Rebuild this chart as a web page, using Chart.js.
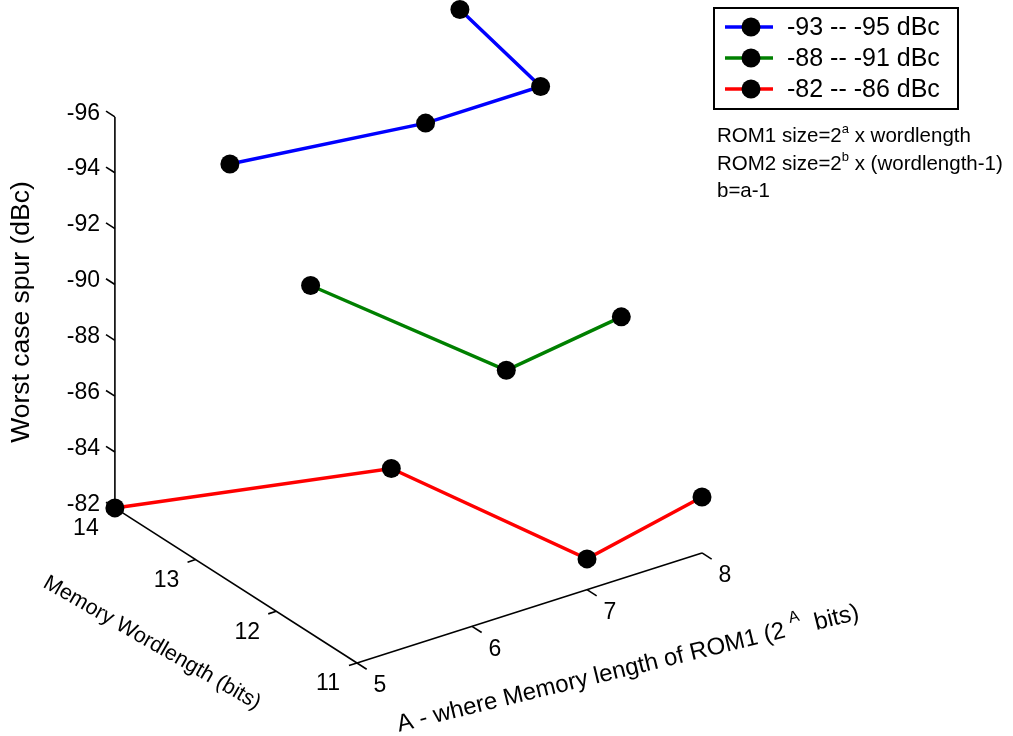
<!DOCTYPE html>
<html>
<head>
<meta charset="utf-8">
<script src="https://cdn.jsdelivr.net/npm/chart.js@4"></script>
<style>
  body { margin: 0; background: #fff; }
  #wrap { width: 1013px; height: 736px; }
</style>
</head>
<body>
<div id="wrap"><canvas id="spurChart" width="1013" height="736"></canvas></div>
<script>
// Axes ticks
const aTicks = [5, 6, 7, 8];
const wTicks = [11, 12, 13, 14];
const spurTicks = [-96, -94, -92, -90, -88, -86, -84, -82];

// Series: A, wordlength, worst case spur (dBc)
const highA = [6, 7, 8, 8];
const highW = [14, 13, 13, 14];
const highSpur = [-93.0, -95.0, -95.0, -95.9];

const midA = [6, 7, 8];
const midW = [13, 12, 12];
const midSpur = [-90.5, -88.0, -88.6];

const lowA = [5, 6, 7, 8];
const lowW = [14, 12, 11, 11];
const lowSpur = [-82.0, -85.8, -83.1, -84.0];

const seriesLabels = ['-93 -- -95 dBc', '-88 -- -91 dBc', '-82 -- -86 dBc'];
const seriesColors = ['#0000ff', '#008000', '#ff0000'];

const FONT = '"Liberation Sans", Arial, sans-serif';

// simple fixed 3D view: origin corner + screen step per unit on each axis
const view = {
    x0: 357, y0: 663,
    aStep: [115, -36.7],
    wStep: [-80.7, -51.7],
    dbStep: 27.93,
    zBase: -82
};

function project(a, w, z) {
    const da = a - aTicks[0];
    const dw = w - wTicks[0];
    return {
        x: view.x0 + da * view.aStep[0] + dw * view.wStep[0],
        y: view.y0 + da * view.aStep[1] + dw * view.wStep[1] - (view.zBase - z) * view.dbStep
    };
}

function toPoints(aArr, wArr, zArr) {
    return aArr.map((a, i) => project(a, wArr[i], zArr[i]));
}

// text with optional superscript pieces, drawn from the left at baseline y
function richWidth(ctx, parts, size) {
    let w = 0;
    parts.forEach(p => {
        ctx.font = (p.sup ? Math.round(size * 0.65) : size) + 'px ' + FONT;
        w += ctx.measureText(p.t).width;
    });
    return w;
}
function drawRich(ctx, parts, x, y, size) {
    parts.forEach(p => {
        const s = p.sup ? Math.round(size * 0.65) : size;
        ctx.font = s + 'px ' + FONT;
        ctx.fillText(p.t, x, p.sup ? y - size * 0.45 : y);
        x += ctx.measureText(p.t).width;
    });
}

const deg = Math.PI / 180;

const axes3d = {
    id: 'axes3d',
    beforeDatasetsDraw(chart) {
        const ctx = chart.ctx;
        const xs = chart.scales.x, ys = chart.scales.y;
        const px = p => ({ x: xs.getPixelForValue(p.x), y: ys.getPixelForValue(p.y) });
        const aMin = aTicks[0], aMax = aTicks[aTicks.length - 1];
        const wMin = wTicks[0], wMax = wTicks[wTicks.length - 1];
        const zLow = spurTicks[spurTicks.length - 1], zHigh = spurTicks[0];

        const line = (p, q) => {
            ctx.beginPath();
            ctx.moveTo(p.x, p.y);
            ctx.lineTo(q.x, q.y);
            ctx.stroke();
        };

        ctx.save();
        ctx.strokeStyle = '#000';
        ctx.fillStyle = '#000';
        ctx.lineWidth = 1.6;

        // axis lines
        line(px(project(aMin, wMin, zLow)), px(project(aMax, wMin, zLow)));
        line(px(project(aMin, wMin, zLow)), px(project(aMin, wMax, zLow)));
        line(px(project(aMin, wMax, zLow)), px(project(aMin, wMax, zHigh)));

        ctx.font = '23px ' + FONT;
        ctx.textBaseline = 'middle';

        // A axis ticks + labels
        ctx.textAlign = 'center';
        aTicks.forEach(a => {
            const p = px(project(a, wMin, zLow));
            const q = px(project(a, wMin - 0.12, zLow));
            line(p, q);
            ctx.fillText(String(a), p.x + 23, p.y + 23);
        });

        // wordlength axis ticks + labels
        wTicks.forEach(w => {
            const p = px(project(aMin, w, zLow));
            const q = px(project(aMin - 0.07, w, zLow));
            line(p, q);
            ctx.fillText(String(w), p.x - 29, p.y + 21);
        });

        // spur axis ticks + labels
        ctx.textAlign = 'right';
        spurTicks.forEach(z => {
            const p = px(project(aMin, wMax, z));
            const q = px(project(aMin, wMax + 0.11, z));
            line(p, q);
            ctx.fillText(String(z), q.x - 6, q.y + 2);
        });

        // axis titles
        ctx.textAlign = 'center';
        ctx.save();
        ctx.translate(22, 312);
        ctx.rotate(-90 * deg);
        ctx.font = '26.5px ' + FONT;
        ctx.fillText('Worst case spur (dBc)', 0, 0);
        ctx.restore();

        ctx.save();
        ctx.translate(152, 643);
        ctx.rotate(30 * deg);
        ctx.font = '21.5px ' + FONT;
        ctx.fillText('Memory Wordlength (bits)', 0, 0);
        ctx.restore();

        const aTitle = [{ t: 'A - where Memory length of ROM1 (2 ' }, { t: 'A', sup: true }, { t: '  bits)' }];
        ctx.save();
        ctx.translate(628, 669);
        ctx.rotate(-13.7 * deg);
        ctx.textAlign = 'left';
        ctx.textBaseline = 'middle';
        const tw = richWidth(ctx, aTitle, 24);
        drawRich(ctx, aTitle, -tw / 2, 0, 24);
        ctx.restore();

        ctx.restore();
    },
    afterDatasetsDraw(chart) {
        const ctx = chart.ctx;
        ctx.save();

        // legend box
        const bx = 714, by = 8, bw = 244, bh = 101;
        ctx.fillStyle = '#fff';
        ctx.fillRect(bx, by, bw, bh);
        ctx.strokeStyle = '#000';
        ctx.lineWidth = 2;
        ctx.strokeRect(bx, by, bw, bh);

        ctx.textAlign = 'left';
        ctx.textBaseline = 'middle';
        ctx.font = '25px ' + FONT;
        seriesLabels.forEach((label, i) => {
            const y = by + 19 + i * 31;
            ctx.strokeStyle = seriesColors[i];
            ctx.lineWidth = 3.5;
            ctx.beginPath();
            ctx.moveTo(bx + 11, y);
            ctx.lineTo(bx + 59, y);
            ctx.stroke();
            ctx.fillStyle = '#000';
            ctx.beginPath();
            ctx.arc(bx + 37, y, 9.5, 0, Math.PI * 2);
            ctx.fill();
            ctx.fillText(label, bx + 73, y + 1);
        });

        // note under the legend
        ctx.textBaseline = 'alphabetic';
        ctx.fillStyle = '#000';
        drawRich(ctx, [{ t: 'ROM1 size=2' }, { t: 'a', sup: true }, { t: ' x wordlength' }], 717, 142, 20.5);
        drawRich(ctx, [{ t: 'ROM2 size=2' }, { t: 'b', sup: true }, { t: ' x (wordlength-1)' }], 717, 170, 20.5);
        drawRich(ctx, [{ t: 'b=a-1' }], 717, 197, 20.5);

        ctx.restore();
    }
};

function makeSeries(i, pts) {
    return {
        label: seriesLabels[i],
        data: pts,
        showLine: true,
        borderColor: seriesColors[i],
        borderWidth: 3.5,
        pointRadius: 9.5,
        pointBackgroundColor: '#000',
        pointBorderColor: '#000',
        pointBorderWidth: 0,
        clip: false
    };
}

new Chart(document.getElementById('spurChart'), {
    type: 'scatter',
    data: {
        datasets: [
            makeSeries(0, toPoints(highA, highW, highSpur)),
            makeSeries(1, toPoints(midA, midW, midSpur)),
            makeSeries(2, toPoints(lowA, lowW, lowSpur))
        ]
    },
    options: {
        responsive: false,
        animation: false,
        layout: { autoPadding: false, padding: 0 },
        scales: {
            x: { type: 'linear', display: false, min: 0, max: 1013 },
            y: { type: 'linear', display: false, min: 0, max: 736, reverse: true }
        },
        plugins: {
            legend: { display: false },
            tooltip: { enabled: false }
        }
    },
    plugins: [axes3d]
});
</script>
</body>
</html>
